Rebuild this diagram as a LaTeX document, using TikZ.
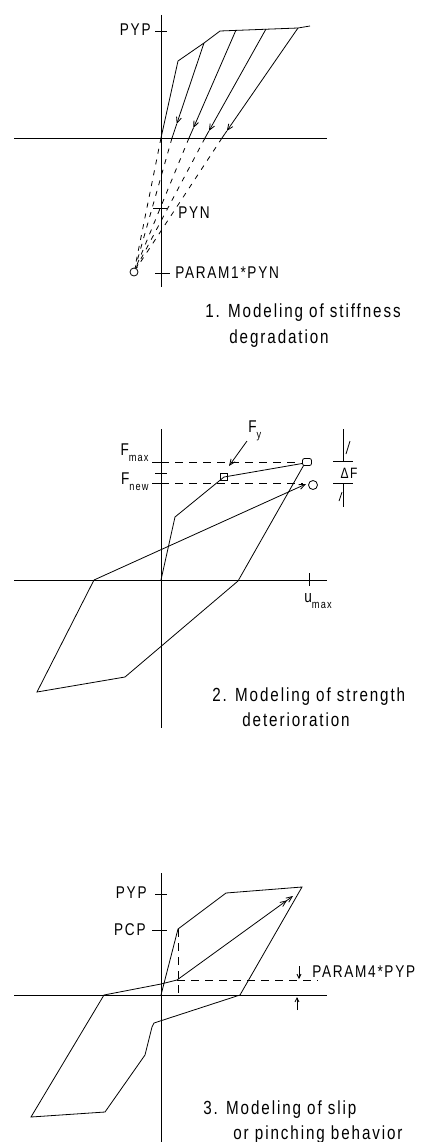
\documentclass[tikz,border=0pt]{standalone}
\usepackage{fontspec}
\setmainfont{Liberation Sans}[FakeStretch=0.8,LetterSpace=10]
\usetikzlibrary{arrows.meta}
\newcommand{\subtx}[1]{\raisebox{-6pt}{\fontsize{11.5}{12}\selectfont #1}}
\begin{document}
\begin{tikzpicture}[x=1pt,y=-1pt,line width=0.8pt,
  lbl/.style={inner sep=0pt,font=\fontsize{17}{19}\selectfont},
  captxt/.style={inner sep=0pt,anchor=west,font=\fontsize{19}{21}\selectfont},
  dsh/.style={dash pattern=on 5pt off 6pt},
  hdsh/.style={dash pattern=on 8pt off 6pt},
  tip/.style={-{Straight Barb[length=6pt,width=5pt]}},
  mk/.style={draw,inner sep=0pt}]
\useasboundingbox (0,0) rectangle (422,1142);

%% ---------------- Panel 1 ----------------
\coordinate (o1) at (161,138);
\draw (161,15) -- (161,287);
\draw (14,138) -- (327,138);
\draw (155,31) -- (167,31);
\draw (153,208) -- (167,208);
\draw (155,273) -- (170,273);
\node[lbl,anchor=east] (pyp1) at (151,30) {PYP};
\node[lbl,anchor=west] (pyn) at (178,213) {PYN};
\node[lbl,anchor=west] (p1pyn) at (175,273) {PARAM1*PYN};
\coordinate (e1) at (178,61);
\coordinate (e2) at (204,43);
\coordinate (e3) at (220,31);
\coordinate (t2) at (236,30);
\coordinate (t3) at (266,29);
\coordinate (t4) at (298,28);
\coordinate (e5) at (310,26);
\draw (o1) -- (e1) -- (e2) -- (e3) -- (t4) -- (e5);
\coordinate (x1) at (172,138);
\coordinate (x2) at (189,138);
\coordinate (x3) at (205,138);
\coordinate (x4) at (222,138);
\coordinate (a1) at (176.7,124);
\coordinate (a2) at (193.4,128);
\coordinate (a3) at (208.9,131);
\coordinate (a4) at (226.8,131);
\draw[tip] (e2) -- (a1); \draw (a1) -- (x1);
\draw[tip] (t2) -- (a2); \draw (a2) -- (x2);
\draw[tip] (t3) -- (a3); \draw (a3) -- (x3);
\draw[tip] (t4) -- (a4); \draw (a4) -- (x4);
\node[circle,draw,minimum size=8pt,inner sep=0pt] (c1) at (134,272) {};
\foreach \p in {o1,x1,x2,x3,x4} \draw[dsh] (\p) -- (c1);
\node[captxt] (cap1a) at (205,313) {1. Modeling of stiffness};
\node[captxt] (cap1b) at (229,339) {degradation};

%% ---------------- Panel 2 ----------------
\coordinate (o2) at (161,580);
\draw (161,429) -- (161,728);
\draw (14,580) -- (327,580);
\draw (152,462) -- (168,462);
\draw (155,473) -- (167,473);
\draw (152,483) -- (168,483);
\draw (309,573) -- (309,586);
\draw[hdsh] (161,462) -- (300,462);
\draw[hdsh] (161,483) -- (303,483);
\node[lbl,anchor=east] (fmax) at (149,453) {F\subtx{max}};
\node[lbl,anchor=east] (fnew) at (149,482) {F\subtx{new}};
\node[lbl,anchor=west] (umax) at (304,601) {u\subtx{max}};
\node[lbl,anchor=west] (fy) at (248,431) {F\subtx{y}};
\coordinate (A2) at (175,517);
\coordinate (Y2) at (224,477);
\coordinate (P2) at (305,463);
\coordinate (B2) at (238,581);
\coordinate (C2) at (125,677);
\coordinate (D2) at (37,692);
\coordinate (E2) at (94,580);
\coordinate (Q2) at (306,484);
\draw (o2) -- (A2) -- (Y2) -- (P2) -- (B2) -- (C2) -- (D2) -- (E2);
\draw[tip] (E2) -- (Q2);
\node[mk,minimum width=7pt,minimum height=7pt] (sq) at (Y2) {};
\node[mk,rounded corners=2pt,minimum width=9pt,minimum height=7pt,fill=white] (pk1) at (307,462) {};
\node[mk,circle,minimum size=9pt,fill=white] (pk2) at (313,485) {};
\draw[tip] (247,441) -- (229,466);
% Delta F
\draw (343,429) -- (343,461);
\draw (333,461) -- (353,461);
\draw (333,483) -- (353,483);
\draw (343,483) -- (343,507);
\draw (350,441) -- (346,454);
\draw (342,492) -- (339,501);
\node[inner sep=0pt,font=\fontsize{15}{17}\selectfont] (df) at (349,473) {ΔF};
\node[captxt] (cap2a) at (212,697) {2. Modeling of strength};
\node[captxt] (cap2b) at (242,720) {deterioration};

%% ---------------- Panel 3 ----------------
\coordinate (o3) at (161,995);
\draw (161,873) -- (161,1142);
\draw (14,995) -- (327,995);
\draw (155,894) -- (167,894);
\draw (152,930) -- (167,930);
\node[lbl,anchor=east] (pyp3) at (147,893) {PYP};
\node[lbl,anchor=east] (pcp3) at (146,930) {PCP};
\node[lbl,anchor=west] (p4) at (312,972) {PARAM4*PYP};
\coordinate (A3) at (178,929);
\coordinate (B3) at (226,893);
\coordinate (P3) at (302,887);
\coordinate (C3) at (240,995);
\coordinate (D3) at (154,1023);
\coordinate (D3b) at (152,1027);
\coordinate (E3) at (145,1055);
\coordinate (F3) at (105,1112);
\coordinate (G3) at (31,1117);
\coordinate (H3) at (104,995);
\coordinate (I3) at (161,984);
\coordinate (J3) at (177,980);
\coordinate (K3) at (293,896);
\draw (o3) -- (A3) -- (B3) -- (P3) -- (C3) -- (D3) -- (D3b) -- (E3) -- (F3) -- (G3) -- (H3) -- (I3) -- (J3);
\draw[-{Straight Barb[length=6pt,width=5pt]Straight Barb[length=6pt,width=5pt]}] (J3) -- (K3);
\draw[hdsh] (178,929) -- (178,995);
\draw[hdsh] (177,980) -- (318,980);
\draw[-{Straight Barb[length=4pt,width=4pt]}] (299,966) -- (299,979);
\draw[-{Straight Barb[length=4pt,width=4pt]}] (297,1010) -- (297,997);
\node[captxt] (cap3a) at (203,1110) {3. Modeling of slip};
\node[captxt] (cap3b) at (233,1135) {or pinching behavior};
\end{tikzpicture}
\end{document}
